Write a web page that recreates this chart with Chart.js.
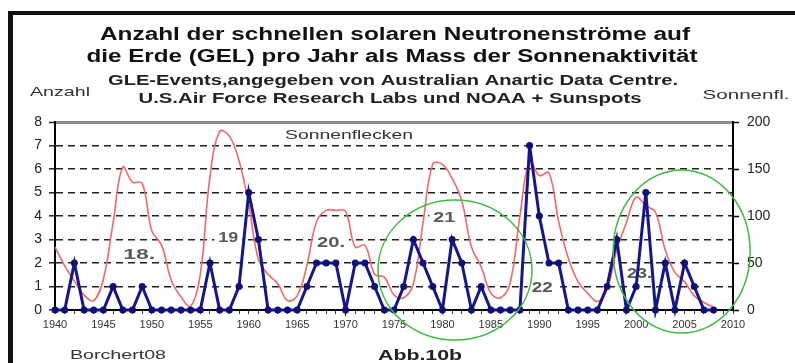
<!DOCTYPE html>
<html>
<head>
<meta charset="utf-8">
<title>GLE-Events und Sonnenflecken</title>
<script src="https://cdn.jsdelivr.net/npm/chart.js@4.4.0/dist/chart.umd.min.js"></script>
<style>
    html, body { margin: 0; padding: 0; background: #fff; }
    canvas { display: block; }
</style>
</head>
<body>
<canvas id="gleChart" width="795" height="363"></canvas>
<script>
// Jahre 1940 - 2008
const years = [
    1940, 1941, 1942, 1943, 1944, 1945, 1946, 1947, 1948, 1949,
    1950, 1951, 1952, 1953, 1954, 1955, 1956, 1957, 1958, 1959,
    1960, 1961, 1962, 1963, 1964, 1965, 1966, 1967, 1968, 1969,
    1970, 1971, 1972, 1973, 1974, 1975, 1976, 1977, 1978, 1979,
    1980, 1981, 1982, 1983, 1984, 1985, 1986, 1987, 1988, 1989,
    1990, 1991, 1992, 1993, 1994, 1995, 1996, 1997, 1998, 1999,
    2000, 2001, 2002, 2003, 2004, 2005, 2006, 2007, 2008
];

// GLE-Events pro Jahr (linke Achse)
const gleEvents = [
    0, 0, 2, 0, 0, 0, 1, 0, 0, 1,
    0, 0, 0, 0, 0, 0, 2, 0, 0, 1,
    5, 3, 0, 0, 0, 0, 1, 2, 2, 2,
    0, 2, 2, 1, 0, 0, 1, 3, 2, 1,
    0, 3, 2, 0, 1, 0, 0, 0, 0, 7,
    4, 2, 2, 0, 0, 0, 0, 1, 3, 0,
    1, 5, 0, 2, 0, 2, 1, 0, 0
];

// Sonnenflecken, Jahresmittel (rechte Achse)
const sunspots = [
    67, 47, 31, 16, 10, 33, 93, 152, 136, 135,
    84, 69, 32, 14, 4, 38, 142, 190, 185, 159,
    112, 54, 38, 28, 10, 15, 47, 94, 106, 106,
    105, 67, 69, 38, 35, 16, 13, 28, 93, 155,
    155, 140, 116, 67, 46, 18, 13, 29, 100, 158,
    143, 146, 94, 55, 30, 18, 9, 22, 64, 93,
    120, 111, 104, 64, 40, 30, 15, 8, 3
];

// Beschriftung der Sonnenzyklen
const cycleNotes = [
    { text: '18.', year: 1948.7, value: 2.38, w: 32 },
    { text: '19', year: 1957.9, value: 3.13, w: 20 },
    { text: '20.', year: 1968.5, value: 2.9, w: 28 },
    { text: '21', year: 1980.2, value: 3.96, w: 22 },
    { text: '22', year: 1990.3, value: 0.98, w: 21 },
    { text: '23.', year: 2000.35, value: 1.6, w: 25 }
];

// Markierte Bereiche (Mitte und Halbachsen in Jahren / Anzahl)
const highlights = [
    { year: 1981.3, value: 1.7, rx: 7.95, ry: 2.98 },
    { year: 2004.7, value: 2.49, rx: 7.07, ry: 3.47 }
];

const FONT = '"Liberation Sans", Arial, sans-serif';

// Text horizontal auf eine Breite strecken
function drawFitted(ctx, text, cx, y, font, width, color, baseline) {
    ctx.save();
    ctx.font = font;
    const w = ctx.measureText(text).width;
    ctx.translate(cx, y);
    ctx.scale(width ? width / w : 1, 1);
    ctx.textAlign = 'center';
    ctx.textBaseline = baseline || 'alphabetic';
    ctx.fillStyle = color;
    ctx.fillText(text, 0, 0);
    ctx.restore();
}

const decorPlugin = {
    id: 'decor',
    beforeDraw(chart) {
        const ctx = chart.ctx;
        ctx.save();
        ctx.fillStyle = '#fff';
        ctx.fillRect(0, 0, chart.width, chart.height);
        // schwarzer Rahmen
        ctx.fillStyle = '#111';
        ctx.fillRect(8, 11, chart.width - 8, 4);
        ctx.fillRect(8, 11, 5, chart.height - 11);
        ctx.restore();
    },
    beforeDatasetsDraw(chart) {
        const ctx = chart.ctx;
        const xs = chart.scales.x, ys = chart.scales.y;
        cycleNotes.forEach(n => {
            const px = xs.getPixelForValue(n.year);
            const py = ys.getPixelForValue(n.value);
            ctx.fillStyle = '#fff';
            ctx.fillRect(px - n.w / 2 - 4, py - 7, n.w + 8, 14);
            drawFitted(ctx, n.text, px, py + 1, 'bold 15px ' + FONT, n.w, '#5a5a5a', 'middle');
        });
        drawFitted(ctx, 'Sonnenflecken', 349, 139, '13px ' + FONT, 128, '#333');
    },
    afterDatasetsDraw(chart) {
        const ctx = chart.ctx;
        const xs = chart.scales.x, ys = chart.scales.y;
        ctx.save();
        ctx.strokeStyle = '#3dbb3d';
        ctx.lineWidth = 1.5;
        highlights.forEach(h => {
            const cx = xs.getPixelForValue(h.year);
            const cy = ys.getPixelForValue(h.value);
            const rx = xs.getPixelForValue(h.year + h.rx) - cx;
            const ry = cy - ys.getPixelForValue(h.value + h.ry);
            ctx.beginPath();
            ctx.ellipse(cx, cy, rx, ry, 0, 0, Math.PI * 2);
            ctx.stroke();
        });
        ctx.restore();
    },
    afterDraw(chart) {
        const ctx = chart.ctx;
        drawFitted(ctx, 'Anzahl der schnellen solaren Neutronenströme auf', 395, 40, 'bold 18px ' + FONT, 590, '#111');
        drawFitted(ctx, 'die Erde (GEL) pro Jahr als Mass der Sonnenaktivität', 392, 62, 'bold 18px ' + FONT, 611, '#111');
        drawFitted(ctx, 'GLE-Events,angegeben von Australian Anartic Data Centre.', 393, 85, 'bold 14px ' + FONT, 570, '#222');
        drawFitted(ctx, 'U.S.Air Force Research Labs und NOAA + Sunspots', 390, 103, 'bold 14px ' + FONT, 503, '#222');
        drawFitted(ctx, 'Anzahl', 60, 96, '13px ' + FONT, 60, '#333');
        drawFitted(ctx, 'Sonnenfl.', 746, 99, '13px ' + FONT, 87, '#333');
        drawFitted(ctx, 'Borchert08', 118, 359, '13px ' + FONT, 96, '#333');
        drawFitted(ctx, 'Abb.10b', 420, 360, 'bold 15px ' + FONT, 84, '#222');
    }
};

function initializeChart() {
    const canvas = document.getElementById('gleChart');

    new Chart(canvas.getContext('2d'), {
        type: 'line',
        data: {
            datasets: [{
                label: 'GLE-Events',
                data: years.map((yr, i) => ({ x: yr, y: gleEvents[i] })),
                yAxisID: 'y',
                borderColor: '#16168c',
                borderWidth: 3,
                pointRadius: 3.5,
                pointBackgroundColor: '#0f0f78',
                pointBorderWidth: 0,
                tension: 0,
                clip: 8
            }, {
                label: 'Sonnenflecken',
                data: years.map((yr, i) => ({ x: yr, y: sunspots[i] })),
                yAxisID: 'y2',
                borderColor: '#f26868',
                borderWidth: 1.6,
                pointRadius: 0,
                tension: 0.4,
                clip: 8
            }]
        },
        options: {
            responsive: false,
            animation: false,
            layout: { padding: { left: 15, right: 0, top: 122, bottom: 0 } },
            plugins: {
                legend: { display: false },
                title: { display: false },
                tooltip: { enabled: false }
            },
            scales: {
                x: {
                    type: 'linear',
                    position: 'bottom',
                    min: 1940,
                    max: 2010,
                    afterFit: scale => { scale.height = 53; },
                    ticks: {
                        stepSize: 1,
                        autoSkip: false,
                        maxRotation: 0,
                        padding: 4,
                        color: '#333',
                        font: { family: FONT, size: 11 },
                        callback: v => (v % 5 === 0 ? String(v) : '')
                    },
                    grid: {
                        drawOnChartArea: false,
                        drawTicks: true,
                        tickLength: 4,
                        tickColor: '#333',
                        tickWidth: 1
                    },
                    border: { display: true, color: '#000', width: 2 }
                },
                y: {
                    position: 'left',
                    min: 0,
                    max: 8,
                    afterFit: scale => { scale.width = 40; },
                    ticks: {
                        stepSize: 1,
                        padding: 7,
                        color: '#222',
                        font: { family: FONT, size: 14 }
                    },
                    grid: {
                        color: c => (c.tick.value === 0 ? 'rgba(0,0,0,0)' : c.tick.value === 8 ? '#8c8c8c' : '#222'),
                        lineWidth: c => (c.tick.value === 8 ? 3 : 1.6),
                        tickLength: 6,
                        tickColor: '#222',
                        tickWidth: 1.5
                    },
                    border: {
                        display: true,
                        color: '#000',
                        width: 2,
                        dash: c => (c.tick && c.tick.value !== 8 ? [7, 5] : [])
                    }
                },
                y2: {
                    position: 'right',
                    min: 0,
                    max: 200,
                    afterFit: scale => { scale.width = 62; },
                    ticks: {
                        stepSize: 50,
                        padding: 8,
                        color: '#222',
                        font: { family: FONT, size: 14 }
                    },
                    grid: {
                        drawOnChartArea: false,
                        tickLength: 6,
                        tickColor: '#000',
                        tickWidth: 1.5
                    },
                    border: { display: true, color: '#000', width: 2 }
                }
            }
        },
        plugins: [decorPlugin]
    });
}

document.addEventListener('DOMContentLoaded', initializeChart);
</script>
</body>
</html>
